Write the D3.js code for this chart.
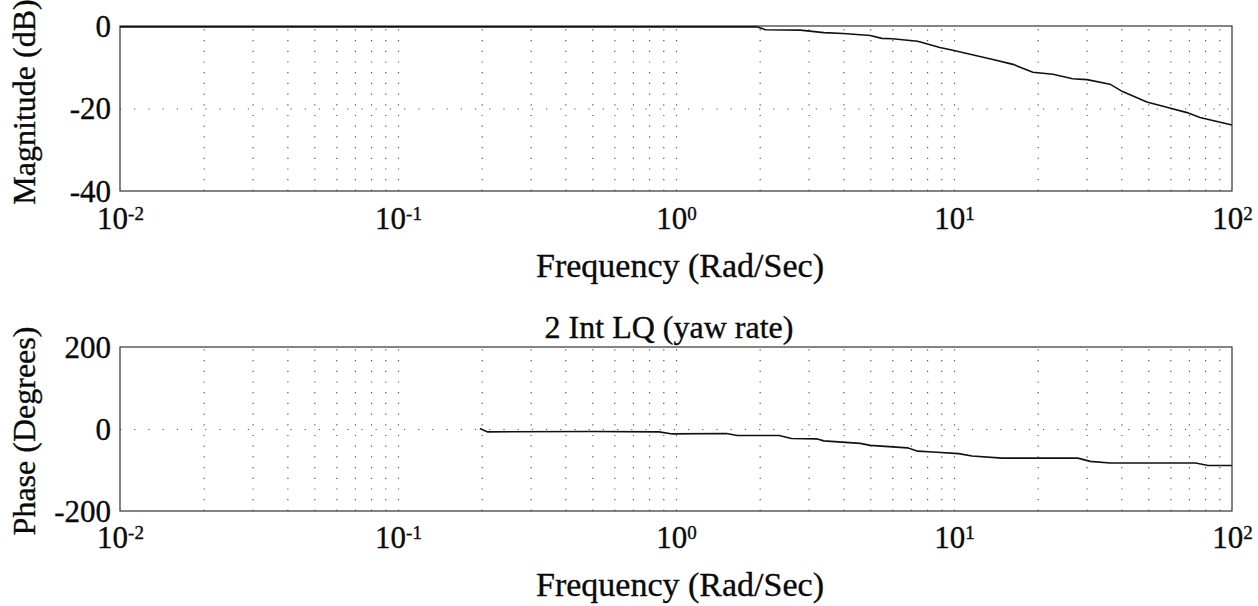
<!DOCTYPE html>
<html>
<head>
<meta charset="utf-8">
<script src="https://cdn.jsdelivr.net/npm/d3@7"></script>
<style>
  body { margin: 0; background: #fff; }
  svg { display: block; }
</style>
</head>
<body>
<svg id="chart" width="1258" height="606"></svg>
<script>
// magnitude curve (rad/s, dB)
var magFreq = [0.01, 0.5, 1.95, 2.1, 2.8, 3.4, 4.0, 5.0, 5.5, 6.0, 7.4, 8.9, 9.9, 13.8, 16.3, 19.2, 22.7, 26.7, 30.1, 36.4, 40.4, 49.4, 58.3, 68.9, 76.7, 100];
var magDb   = [-0.2, -0.2, -0.2, -0.9, -1.0, -1.6, -1.8, -2.3, -3.0, -3.1, -3.7, -5.2, -5.9, -8.1, -9.3, -11.2, -11.7, -12.8, -13.0, -14.1, -15.9, -18.4, -19.7, -21.0, -22.2, -24.0];

// phase curve (rad/s, degrees)
var phaseFreq = [0.197, 0.21, 0.5, 0.87, 0.97, 1.52, 1.66, 2.35, 2.6, 3.2, 3.4, 4.6, 5.0, 6.8, 7.4, 8.4, 10.4, 11.6, 14.9, 27.9, 30.9, 36.4, 74, 82, 100];
var phaseDeg  = [1, -7, -6, -7, -12, -11, -16, -16, -23, -24, -29, -35, -40, -46, -54, -56, -60, -66, -71, -71, -79, -83, -83, -89, -89];

var decades = [0.01, 0.1, 1, 10, 100];
var magTicks = [0, -20, -40];
var phaseTicks = [200, 0, -200];

var FONT = "'Liberation Serif', 'DejaVu Serif', 'Times New Roman', Times, serif";
var INK = "#0a0a0a";

var svg = d3.select("#chart")
    .attr("font-family", FONT);

var x = d3.scaleLog().domain([0.01, 100]).range([120, 1232]);
var gridX = x.ticks().filter(function (d) { return d > 0.01 && d < 100; });

// scanned print looks a bit heavy, thicken the glyphs slightly
function ink(sel) {
    sel.attr("fill", INK).attr("stroke", INK).attr("stroke-width", 0.35);
}

function drawPanel(opt) {
    var y = d3.scaleLinear().domain(opt.domain).range([opt.bottom, opt.top]);
    var h = opt.bottom - opt.top;
    var g = svg.append("g");

    // vertical dotted grid
    g.append("g")
        .attr("transform", "translate(0," + opt.bottom + ")")
        .call(d3.axisBottom(x).tickValues(gridX).tickSize(-h).tickFormat(""))
        .call(function (a) { a.select(".domain").remove(); })
        .selectAll("line")
        .attr("stroke", "#555")
        .attr("stroke-width", 1.2)
        .attr("stroke-dasharray", "1.2,9.5");

    // horizontal dotted grid
    g.append("g")
        .attr("transform", "translate(120,0)")
        .call(d3.axisLeft(y).tickValues(opt.gridY).tickSize(-(1232 - 120)).tickFormat(""))
        .call(function (a) { a.select(".domain").remove(); })
        .selectAll("line")
        .attr("stroke", "#555")
        .attr("stroke-width", 1.2)
        .attr("stroke-dasharray", "1.2,13");

    // frame
    g.append("rect")
        .attr("x", 120).attr("y", opt.top)
        .attr("width", 1232 - 120).attr("height", h)
        .attr("fill", "none")
        .attr("stroke", "#333")
        .attr("stroke-width", 1.2);

    // x tick labels 10^k
    var xa = g.append("g")
        .attr("transform", "translate(0," + opt.bottom + ")")
        .call(d3.axisBottom(x).tickValues(decades).tickSize(0).tickFormat(""));
    xa.attr("font-family", FONT);
    xa.select(".domain").remove();
    xa.selectAll(".tick text")
        .attr("y", opt.tickGap)
        .attr("dy", null)
        .attr("font-size", 31)
        .call(ink)
        .each(function (d) {
            var t = d3.select(this);
            t.append("tspan").text("10");
            t.append("tspan").attr("font-size", 19).attr("dy", -9)
                .text(String(Math.round(Math.log10(d))));
        });

    // y tick labels
    var ya = g.append("g")
        .attr("transform", "translate(120,0)")
        .call(d3.axisLeft(y).tickValues(opt.ticks).tickSize(0).tickPadding(9)
            .tickFormat(function (d) { return String(d); }));
    ya.attr("font-family", FONT);
    ya.select(".domain").remove();
    ya.selectAll(".tick text")
        .attr("font-size", 31)
        .attr("dy", "0.33em")
        .call(ink);

    // curve
    var line = d3.line()
        .x(function (d) { return x(d[0]); })
        .y(function (d) { return y(d[1]); });
    g.append("path")
        .datum(d3.zip(opt.xs, opt.ys))
        .attr("d", line)
        .attr("fill", "none")
        .attr("stroke", "#111")
        .attr("stroke-width", 1.6);

    // labels
    g.append("text")
        .attr("x", 680).attr("y", opt.xlabelY)
        .attr("text-anchor", "middle")
        .attr("font-size", 34)
        .call(ink)
        .text("Frequency (Rad/Sec)");
    g.append("text")
        .attr("transform", "translate(35," + opt.ylabelMid + ") rotate(-90)")
        .attr("text-anchor", "middle")
        .attr("font-size", 32)
        .call(ink)
        .text(opt.ylabel);
}

drawPanel({
    domain: [-40, 0], top: 26, bottom: 191,
    ticks: magTicks, gridY: [-20],
    xs: magFreq, ys: magDb,
    tickGap: 38, xlabelY: 277,
    ylabel: "Magnitude (dB)", ylabelMid: 102
});

drawPanel({
    domain: [-200, 200], top: 347, bottom: 511,
    ticks: phaseTicks, gridY: [0],
    xs: phaseFreq, ys: phaseDeg,
    tickGap: 37, xlabelY: 596,
    ylabel: "Phase (Degrees)", ylabelMid: 431
});

svg.append("text")
    .attr("x", 669).attr("y", 338)
    .attr("text-anchor", "middle")
    .attr("font-size", 32)
    .call(ink)
    .text("2 Int LQ (yaw rate)");
</script>
</body>
</html>
